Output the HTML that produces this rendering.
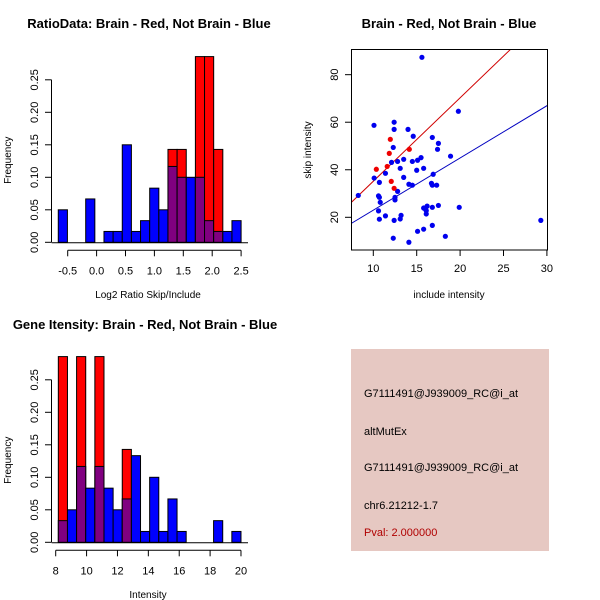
<!DOCTYPE html>
<html><head><meta charset="utf-8"><style>
body{margin:0;background:#fff}
svg{display:block;font-family:"Liberation Sans",sans-serif}
</style></head><body>
<svg id="c" width="600" height="600" viewBox="0 0 600 600" xmlns="http://www.w3.org/2000/svg">
<rect x="351" y="349" width="198" height="202" fill="#e6c8c2"/>
<text x="364" y="397" font-size="11">G7111491@J939009_RC@i_at</text>
<text x="364" y="435" font-size="11">altMutEx</text>
<text x="364" y="471" font-size="11">G7111491@J939009_RC@i_at</text>
<text x="364" y="509" font-size="11">chr6.21212-1.7</text>
<text x="364" y="536" font-size="11" fill="#b00000">Pval: 2.000000</text>
</svg>
<script>
// ---- Histogram 1 data (ratio) ----
const ratioBinStart = -0.663;
const ratioBinWidth = 0.15815;
const ratioBlue = [0.05,0,0,0.0667,0,0.0167,0.0167,0.15,0.0167,0.0333,0.0833,0.05,0.1167,0.1,0.1,0.1,0.0333,0.0167,0.0167,0.0333];
const ratioRed  = [0,0,0,0,0,0,0,0,0,0,0,0,0.1429,0.1429,0,0.2857,0.2857,0.1429,0,0];
const ratioXTicks = [-0.5,0.0,0.5,1.0,1.5,2.0,2.5];
const ratioXTickLabels = ["-0.5","0.0","0.5","1.0","1.5","2.0","2.5"];
// ---- Histogram 2 data (intensity) ----
const intBinStart = 8.17;
const intBinWidth = 0.5915;
const intBlue = [0.0333,0.05,0.1167,0.0833,0.1167,0.0833,0.05,0.0667,0.1333,0.0167,0.1,0.0167,0.0667,0.0167,0,0,0,0.0333,0,0.0167];
const intRed  = [0.2857,0,0.2857,0,0.2857,0,0,0.1429,0,0,0,0,0,0,0,0,0,0,0,0];
const intXTicks = [8,10,12,14,16,18,20];
const intXTickLabels = ["8","10","12","14","16","18","20"];
const freqTicks = [0,0.05,0.10,0.15,0.20,0.25];
const freqTickLabels = ["0.00","0.05","0.10","0.15","0.20","0.25"];
// ---- Scatter data ----
const blueX = [8.27,10.08,10.1,10.7,10.6,10.7,10.8,10.6,10.7,11.4,11.4,12.1,12.3,12.4,12.4,12.8,12.8,12.5,12.5,12.4,12.3,13.1,13.2,13.1,13.5,13.5,14.0,14.1,14.5,14.1,14.6,14.5,15.1,15.5,15.0,15.6,15.8,15.8,16.0,16.1,16.1,16.2,15.1,15.8,16.8,16.9,16.7,16.8,17.3,16.8,16.8,17.5,17.4,17.5,18.9,18.3,19.8,19.9,29.3];
const blueY = [29.2,58.7,36.5,34.7,29,28.4,26.3,22.7,19.2,38.5,20.6,43.1,49.4,60,57,43.5,30.9,28.4,27.3,18.7,11.2,40.6,20.8,19.3,44.4,36.8,57,33.9,33.5,9.5,54.1,43.5,44,45.1,39.8,87.3,40.6,23.9,23.4,21.4,22.8,24.7,14.1,15,53.6,38.1,34.3,33.5,33.5,24.2,16.6,51.1,48.6,25,45.7,12,64.6,24.2,18.7];
const redX = [10.35,11.96,11.84,11.6,12.07,12.4,14.15];
const redY = [40.2,52.8,46.9,41.4,35.1,32.2,48.6];
const blueFit = [1.02,2.197];   // intercept, slope
const redFit = [0.07,3.51];
const scXTicks = [10,15,20,25,30];
const scYTicks = [20,40,60,80];

const svg = document.getElementById('c');
const NS = 'http://www.w3.org/2000/svg';
function mk(tag, attrs, parent){
  const e = document.createElementNS(NS, tag);
  for (const k in attrs) e.setAttribute(k, attrs[k]);
  (parent||svg).appendChild(e);
  return e;
}
function txt(x,y,s,size,extra){
  const t = mk('text', Object.assign({x:x,y:y,'font-size':size,'text-anchor':'middle'}, extra||{}));
  t.textContent = s;
  return t;
}

function histogram(o){
  const sx = v => o.x0 + (v - o.v0) * o.pxPerUnit;
  const sy = v => o.yBase - v * o.pxPerFreq;
  const g = mk('g', {});
  
  
  for (let i=0;i<o.blue.length;i++){
    const l = sx(o.binStart + i*o.binWidth), r = sx(o.binStart + (i+1)*o.binWidth);
    const b = o.blue[i], rd = o.red[i];
    if (rd > 0){
      const e = mk('rect',{x:l,y:sy(rd),width:r-l,height:sy(0)-sy(rd),fill:'#ff0000',stroke:'#000','stroke-width':1},g);
      
      
    }
    if (b > 0){
      const e = mk('rect',{x:l,y:sy(b),width:r-l,height:sy(0)-sy(b),fill:rd>0?'#800080':'#0000ff',stroke:'#000','stroke-width':1},g);
      
      
    }
    if (rd > 0 && b > rd){
      mk('rect',{x:l,y:sy(b),width:r-l,height:sy(rd)-sy(b),fill:'#0000ff',stroke:'#000','stroke-width':1},g);
    }
  }
  mk('line',{x1:51.7,x2:248,y1:o.yBase+0.5,y2:o.yBase+0.5,stroke:'#000'},g);
  // y axis
  const ya = mk('g',{},g);
  
  
  mk('line',{x1:51.5,x2:51.5,y1:sy(0),y2:sy(0.25),stroke:'#000'},ya);
  freqTicks.forEach((v,i)=>{
    mk('line',{x1:45,x2:51.5,y1:sy(v),y2:sy(v),stroke:'#000'},ya);
    txt(0,0,freqTickLabels[i],11,{transform:`translate(38,${sy(v)}) rotate(-90)`});
  });
  // x axis
  const xa = mk('g',{},g);
  
  
  const ay = o.yBase + 8;
  mk('line',{x1:sx(o.xTicks[0]),x2:sx(o.xTicks[o.xTicks.length-1]),y1:ay,y2:ay,stroke:'#000'},xa);
  o.xTicks.forEach((v,i)=>{
    mk('line',{x1:sx(v),x2:sx(v),y1:ay,y2:ay+6,stroke:'#000'},xa);
    txt(sx(v),ay+24,o.xTickLabels[i],11);
  });
  const t = txt(o.titleX,o.titleY,o.title,13,{'font-weight':'bold'});
  
  
  const xl = txt(148,o.xlabY,o.xlab,10);
  
  
  const yl = txt(0,0,'Frequency',10,{transform:`translate(11,${o.yBase-82}) rotate(-90)`});
  
  
}

histogram({name:'ratio-histogram',x0:67.7,v0:-0.5,pxPerUnit:57.8,yBase:242.3,pxPerFreq:650,
  binStart:ratioBinStart,binWidth:ratioBinWidth,blue:ratioBlue,red:ratioRed,
  xTicks:ratioXTicks,xTickLabels:ratioXTickLabels,title:'RatioData: Brain - Red, Not Brain - Blue',titleX:149,titleY:28,
  xlab:'Log2 Ratio Skip/Include',xlabY:298});
histogram({name:'intensity-histogram',x0:55.7,v0:8,pxPerUnit:15.44,yBase:542.3,pxPerFreq:650,
  binStart:intBinStart,binWidth:intBinWidth,blue:intBlue,red:intRed,
  xTicks:intXTicks,xTickLabels:intXTickLabels,title:'Gene Itensity: Brain - Red, Not Brain - Blue',titleX:145,titleY:329,
  xlab:'Intensity',xlabY:598});

// ---- Scatter ----
const SX = v => 373.3 + (v-10)*8.68;
const SY = v => 217.3 - (v-20)*2.377;
const sg = mk('g',{});


const cp = mk('clipPath',{id:'sc'},sg); mk('rect',{x:351.5,y:49.5,width:196,height:200.5},cp);
const fitLine = (f,col,nm)=>{
  const x1=7.5,x2=30.1;
  const l = mk('line',{x1:SX(x1),y1:SY(f[0]+f[1]*x1),x2:SX(x2),y2:SY(f[0]+f[1]*x2),stroke:col,'stroke-width':1,'clip-path':'url(#sc)'},sg);
  
  
};
fitLine(blueFit,'#0000c0','blue-fit-line');
fitLine(redFit,'#d00000','red-fit-line');
blueX.forEach((x,i)=>{
  const c = mk('circle',{cx:SX(x),cy:SY(blueY[i]),r:2.6,fill:'#0000ee'},sg);
  
  
});
redX.forEach((x,i)=>{
  const c = mk('circle',{cx:SX(x),cy:SY(redY[i]),r:2.6,fill:'#ee0000'},sg);
  
  
});
mk('rect',{x:351.5,y:49.5,width:196,height:200.5,fill:'none',stroke:'#000'},sg);
scXTicks.forEach(v=>{
  mk('line',{x1:SX(v),x2:SX(v),y1:250,y2:256,stroke:'#000'},sg);
  txt(SX(v),272,String(v),11);
});
scYTicks.forEach(v=>{
  mk('line',{x1:345,x2:351.5,y1:SY(v),y2:SY(v),stroke:'#000'},sg);
  txt(0,0,String(v),11,{transform:`translate(338,${SY(v)}) rotate(-90)`});
});
const st = txt(449,28,'Brain - Red, Not Brain - Blue',13,{'font-weight':'bold'});


const sxl = txt(449,298,'include intensity',10);


const syl = txt(0,0,'skip intensity',10,{transform:'translate(311,150) rotate(-90)'});


</script>
</body></html>
